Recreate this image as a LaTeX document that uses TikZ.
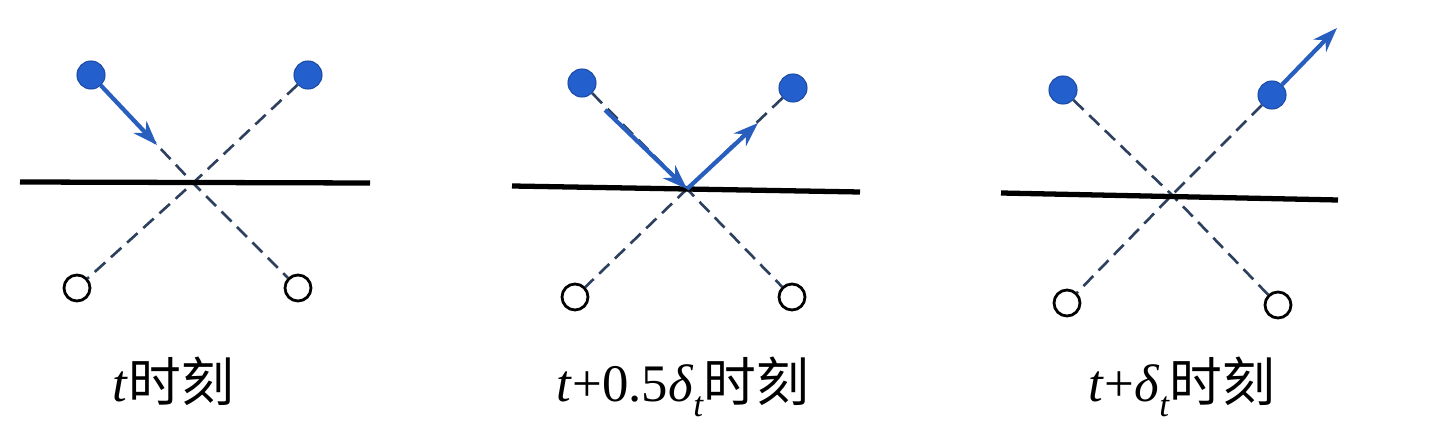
\documentclass[tikz,border=0pt]{standalone}
\usepackage{fontspec}
\setmainfont{Liberation Serif}
\newfontfamily\cjk{Noto Sans CJK SC}
\usetikzlibrary{arrows.meta}
\definecolor{ballblue}{RGB}{35,95,205}
\definecolor{arrblue}{RGB}{40,95,190}
\definecolor{dashcol}{RGB}{45,65,95}
\newcommand{\subt}{\raisebox{-0.6ex}{\fontsize{10}{12}\selectfont\textit{t}}}
\newcommand{\shi}{{\cjk 时刻}}
\begin{document}
\begin{tikzpicture}[x=0.01cm,y=-0.01cm,
 ball/.style={circle,fill=ballblue,draw=ballblue!80!black,line width=0.3pt,minimum size=0.28cm,inner sep=0},
 hollow/.style={circle,fill=white,draw=black,line width=0.8pt,minimum size=0.26cm,inner sep=0},
 guide/.style={draw=dashcol,line width=0.75pt,dash pattern=on 4pt off 2.2pt},
 surf/.style={draw=black,line width=1.5pt},
 vel/.style={draw=arrblue,line width=1.2pt,-{Stealth[length=7pt,width=5pt]}},
 lab/.style={anchor=base west,inner sep=0,font=\fontsize{15}{18}\selectfont}]
\useasboundingbox (0,0) rectangle (1436,446);
% ---------- panel 1 ----------
\node[ball] (tl1) at (91,75) {};
\node[ball] (tr1) at (308,75) {};
\node[hollow] (bl1) at (77,288) {};
\node[hollow] (br1) at (298,288) {};
\coordinate (x1) at (193,183);
\coordinate (s1a) at (20,182);
\coordinate (s1b) at (370,183);
\coordinate (a1) at (157,145);
\draw[guide] (tl1) -- (x1) -- (br1);
\draw[guide] (tr1) -- (x1) -- (bl1);
\draw[surf] (s1a) -- (s1b);
\draw[vel] (tl1) -- (a1);
\node[lab] (l1) at (112,402) {\textit{t}\shi};
% ---------- panel 2 ----------
\node[ball] (tl2) at (582,83) {};
\node[ball] (tr2) at (793,88) {};
\node[hollow] (bl2) at (575,297) {};
\node[hollow] (br2) at (792,297) {};
\coordinate (x2) at (687,189);
\coordinate (s2a) at (512,186);
\coordinate (s2b) at (860,192);
\coordinate (a2s) at (605,110);
\coordinate (a2e) at (758,123);
\draw[guide] (tl2) -- (x2) -- (br2);
\draw[guide] (tr2) -- (x2) -- (bl2);
\draw[surf] (s2a) -- (s2b);
\draw[vel] (a2s) -- (x2);
\draw[vel] (x2) -- (a2e);
\node[lab] (l2) at (556,402) {\textit{t}+0.5\textit{δ}\subt\shi};
% ---------- panel 3 ----------
\node[ball] (tl3) at (1063,90) {};
\node[ball] (tr3) at (1272,95) {};
\node[hollow] (bl3) at (1067,303) {};
\node[hollow] (br3) at (1278,305) {};
\coordinate (x3) at (1172,195);
\coordinate (s3a) at (1001,193);
\coordinate (s3b) at (1338,200);
\coordinate (a3) at (1337,28);
\draw[guide] (tl3) -- (x3) -- (br3);
\draw[guide] (tr3) -- (x3) -- (bl3);
\draw[surf] (s3a) -- (s3b);
\draw[vel] (tr3) -- (a3);
\node[lab] (l3) at (1088,402) {\textit{t}+\textit{δ}\subt\shi};
\end{tikzpicture}
\end{document}
